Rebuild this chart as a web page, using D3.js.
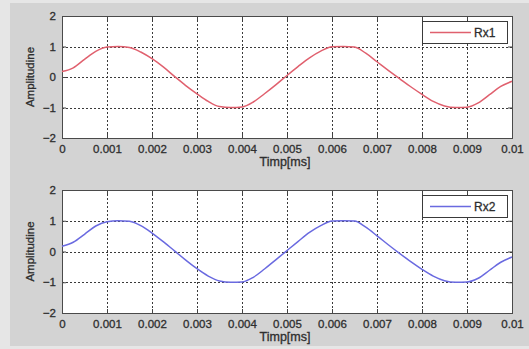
<!DOCTYPE html>
<html>
<head>
<meta charset="utf-8">
<script src="https://cdn.jsdelivr.net/npm/d3@7"></script>
<style>
  body { margin: 0; background: #e6e6e6; }
  svg { display: block; font-family: "Liberation Sans", Arial, sans-serif; }
</style>
</head>
<body>
<div id="chart"></div>
<script>
// time axis (ms), one sample every 0.00025
const timeStep = 0.00025;
const xTicks = [0, 0.001, 0.002, 0.003, 0.004, 0.005, 0.006, 0.007, 0.008, 0.009, 0.01];
const yTicks = [-2, -1, 0, 1, 2];

const rx1 = [0.18, 0.30, 0.58, 0.84, 0.98, 1.00, 0.97, 0.82, 0.60, 0.33,
             0.02, -0.28, -0.55, -0.80, -0.97, -1.00, -0.98, -0.82, -0.55, -0.26,
             0.05, 0.35, 0.63, 0.85, 0.99, 1.00, 0.98, 0.78, 0.50, 0.22,
             -0.05, -0.32, -0.57, -0.80, -0.95, -1.00, -0.99, -0.85, -0.58, -0.31,
             -0.14];
const rx2 = [0.17, 0.30, 0.56, 0.83, 0.97, 1.00, 0.98, 0.84, 0.60, 0.32,
             0.02, -0.28, -0.56, -0.80, -0.96, -1.00, -0.99, -0.84, -0.57, -0.27,
             0.03, 0.33, 0.62, 0.84, 0.99, 1.00, 0.99, 0.79, 0.51, 0.22,
             -0.06, -0.33, -0.58, -0.80, -0.95, -1.00, -0.99, -0.87, -0.61, -0.35,
             -0.18];

const panels = [
    {name: "Rx1", values: rx1, color: "#e0606e", top: 16, bottom: 138},
    {name: "Rx2", values: rx2, color: "#6a6ae0", top: 190, bottom: 313}
];

const width = 529, height = 349;
const left = 62, right = 512;

const svg = d3.select("#chart").append("svg")
    .attr("width", width)
    .attr("height", height)
    .attr("viewBox", [0, 0, width, height]);

// figure background
svg.append("rect")
    .attr("x", 10).attr("y", 3)
    .attr("width", width - 10).attr("height", height - 6)
    .attr("fill", "#d3d3d3");

const x = d3.scaleLinear().domain([0, 0.01]).range([left, right]);
const fmt = d3.format(".3~f");

// slightly heavier text, like the blurred original
const textStyle = s => s.attr("fill", "#2e2e2e")
    .attr("stroke", "#2e2e2e")
    .attr("stroke-width", 0.3);

panels.forEach(p => {
    const y = d3.scaleLinear().domain([-2, 2]).range([p.bottom, p.top]);
    const g = svg.append("g");

    g.append("rect")
        .attr("x", left).attr("y", p.top)
        .attr("width", right - left).attr("height", p.bottom - p.top)
        .attr("fill", "white");

    // dotted grid
    const grid = g.append("g")
        .attr("stroke", "#3a3a3a")
        .attr("stroke-width", 1)
        .attr("stroke-dasharray", "2,2");
    grid.selectAll("line.v")
        .data(xTicks.slice(1, -1))
        .join("line")
            .attr("class", "v")
            .attr("x1", d => Math.round(x(d)) + 0.5).attr("x2", d => Math.round(x(d)) + 0.5)
            .attr("y1", p.top).attr("y2", p.bottom);
    grid.selectAll("line.h")
        .data(yTicks.slice(1, -1))
        .join("line")
            .attr("class", "h")
            .attr("y1", d => Math.round(y(d)) + 0.5).attr("y2", d => Math.round(y(d)) + 0.5)
            .attr("x1", left).attr("x2", right);

    // axes, ticks pointing inward
    const axisStyle = a => a.call(s => s.select(".domain").remove())
        .call(s => s.selectAll(".tick line").attr("stroke", "#444"))
        .call(s => s.selectAll(".tick text")
            .attr("font-size", 11.5)
            .call(textStyle));

    g.append("g")
        .attr("transform", `translate(0,${p.bottom})`)
        .call(d3.axisBottom(x).tickValues(xTicks).tickFormat(fmt).tickSize(-4).tickPadding(7))
        .call(axisStyle);
    g.append("g")
        .attr("transform", `translate(0,${p.top})`)
        .call(d3.axisTop(x).tickValues(xTicks).tickFormat("").tickSize(-4))
        .call(axisStyle);
    g.append("g")
        .attr("transform", `translate(${left},0)`)
        .call(d3.axisLeft(y).tickValues(yTicks).tickFormat(d3.format("d")).tickSize(-4).tickPadding(6))
        .call(axisStyle);
    g.append("g")
        .attr("transform", `translate(${right},0)`)
        .call(d3.axisRight(y).tickValues(yTicks).tickFormat("").tickSize(-4))
        .call(axisStyle);

    // axis box
    g.append("rect")
        .attr("x", left + 0.5).attr("y", p.top + 0.5)
        .attr("width", right - left).attr("height", p.bottom - p.top)
        .attr("fill", "none")
        .attr("stroke", "#4a4a4a");

    // series
    const line = d3.line()
        .x((d, i) => x(i * timeStep))
        .y(d => y(d))
        .curve(d3.curveMonotoneX);
    g.append("path")
        .datum(p.values)
        .attr("fill", "none")
        .attr("stroke", p.color)
        .attr("stroke-width", 1.5)
        .attr("d", line);

    // labels
    g.append("text")
        .attr("x", (left + right) / 2 - 2)
        .attr("y", p.bottom + 28)
        .attr("text-anchor", "middle")
        .attr("font-size", 12.5)
        .call(textStyle)
        .text("Timp[ms]");
    g.append("text")
        .attr("transform", `translate(34,${(p.top + p.bottom) / 2}) rotate(-90)`)
        .attr("text-anchor", "middle")
        .attr("font-size", 11.5)
        .call(textStyle)
        .text("Amplitudine");

    // legend
    const lg = g.append("g").attr("transform", `translate(422,${p.top + 5})`);
    lg.append("rect")
        .attr("x", 0.5).attr("y", 0.5)
        .attr("width", 85).attr("height", 22)
        .attr("fill", "white")
        .attr("stroke", "#3a3a3a");
    lg.append("line")
        .attr("x1", 8).attr("x2", 49)
        .attr("y1", 11.5).attr("y2", 11.5)
        .attr("stroke", p.color)
        .attr("stroke-width", 1.5);
    lg.append("text")
        .attr("x", 52).attr("y", 15.5)
        .attr("font-size", 12)
        .call(textStyle)
        .text(p.name);
});
</script>
</body>
</html>
